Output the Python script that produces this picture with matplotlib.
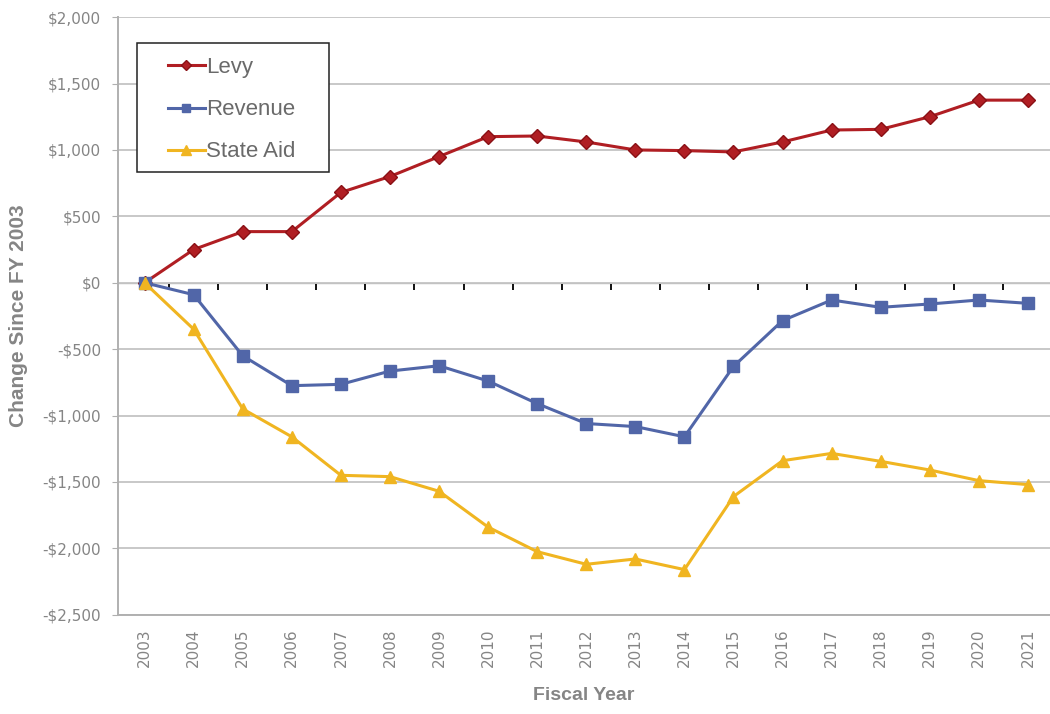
import matplotlib
matplotlib.use("Agg")
import matplotlib.pyplot as plt
from matplotlib.patches import Rectangle
from matplotlib.ticker import FuncFormatter, MultipleLocator

years = [str(y) for y in range(2003, 2022)]
levy = [0, 250, 385, 385, 680, 800, 950, 1100, 1105, 1060, 1000, 995, 985,
        1060, 1150, 1155, 1250, 1375, 1375]
revenue = [0, -90, -550, -775, -765, -665, -625, -740, -910, -1060, -1083,
           -1160, -630, -285, -130, -185, -160, -130, -155]
state_aid = [0, -350, -950, -1160, -1450, -1460, -1570, -1840, -2025, -2120,
             -2080, -2160, -1610, -1340, -1285, -1345, -1410, -1490, -1520]

GREY = "#858585"

fig = plt.figure(figsize=(10.5, 7.14), dpi=100)
ax = fig.add_axes([0.112, 0.139, 0.888, 0.837])
x = list(range(len(years)))

ax.plot(x, levy, color="#B01E23", lw=2.2, marker="D", ms=7,
        mec="#8a1015", label="Levy", zorder=4)
ax.plot(x, revenue, color="#5166A8", lw=2.2, marker="s", ms=8.5,
        label="Revenue", zorder=4)
ax.plot(x, state_aid, color="#F0B521", lw=2.2, marker="^", ms=9,
        label="State Aid", zorder=4)

ax.set_ylim(-2500, 2000)
ax.set_xlim(-0.55, 18.45)
ax.yaxis.set_major_locator(MultipleLocator(500))
ax.yaxis.set_major_formatter(FuncFormatter(
    lambda v, p: f"${v:,.0f}" if v >= 0 else f"-${-v:,.0f}"))
ax.grid(axis="y", color="#c8c8c8", lw=1.4)
ax.set_axisbelow(True)

for s in ("top", "right"):
    ax.spines[s].set_visible(False)
for s in ("left", "bottom"):
    ax.spines[s].set_color("#b0b0b0")
    ax.spines[s].set_linewidth(1.4)

ax.set_xticks(x)
ax.set_xticklabels(years, rotation=90)
ax.tick_params(axis="x", length=0, pad=10, labelsize=11, labelcolor=GREY)
ax.tick_params(axis="y", length=4, color="#b0b0b0", pad=8,
               labelsize=11, labelcolor=GREY)

# zero line with ticks between categories
zero = ax.secondary_xaxis(2500 / 4500)
zero.spines["bottom"].set_linewidth(2.4)
zero.spines["bottom"].set_color("#111111")
zero.set_xticks([i + 0.5 for i in x[:-1]])
zero.tick_params(axis="x", direction="in", length=5, width=1.4,
                 color="#111111", labelbottom=False, labeltop=False)

ax.set_ylabel("Change Since FY 2003", fontsize=15, fontweight="bold",
              color=GREY, family="Liberation Sans", labelpad=10)
ax.set_xlabel("Fiscal Year", fontsize=14, fontweight="bold", color=GREY,
              family="Liberation Sans", labelpad=14)

# legend box is wider than the legend's own padding allows, so draw it apart
box = Rectangle((0.0204, 0.741), 0.206, 0.216, transform=ax.transAxes,
                facecolor="white", edgecolor="#222222", lw=1.1, zorder=5)
ax.add_patch(box)
leg = ax.legend(loc="upper left", bbox_to_anchor=(0.0536, 0.933),
                prop={"family": "Liberation Sans", "size": 16},
                labelcolor="#6a6a6a", frameon=False, markerscale=0.75,
                handlelength=1.7, handletextpad=0.05,
                labelspacing=0.95, borderpad=0, borderaxespad=0)
leg.set_zorder(6)

fig.savefig("out.png", dpi=100)
